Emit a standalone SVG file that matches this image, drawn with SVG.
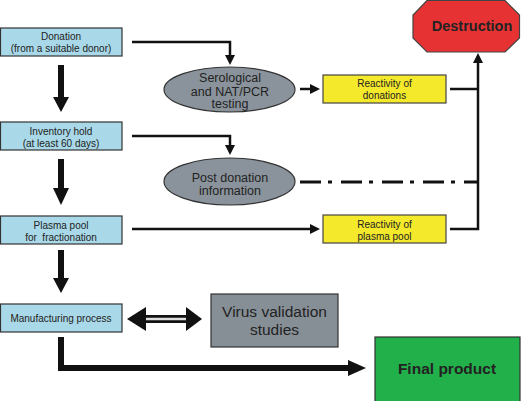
<svg xmlns="http://www.w3.org/2000/svg" width="521" height="401" viewBox="0 0 521 401">
<defs>
<style>
.box{fill:#a9d9e8;stroke:#333;stroke-width:1.2}
.yel{fill:#f4e92b;stroke:#444;stroke-width:1.2}
.ell{fill:#8a939b;stroke:#333;stroke-width:1.2}
.t{font-family:"Liberation Sans",Arial,sans-serif;fill:#222;text-anchor:middle}
.s{font-size:10px}
.m{font-size:12.5px}
.l{font-size:15.5px}
.b{font-weight:bold}
.ln{fill:none;stroke:#111;stroke-width:2.5}
.thick{fill:none;stroke:#111;stroke-width:6}
</style>
</defs>
<g id="connectors">
<rect x="58" y="65" width="6" height="33" fill="#111"/><path d="M53,97 L69,97 L61,112 Z" fill="#111"/>
<rect x="58" y="159" width="6" height="30" fill="#111"/><path d="M53,188 L69,188 L61,205 Z" fill="#111"/>
<rect x="58" y="250" width="6" height="29" fill="#111"/><path d="M53,278 L69,278 L61,293 Z" fill="#111"/>
<path class="thick" d="M61,337 V368 H350"/><path d="M348,360 L366,368 L348,376 Z" fill="#111"/>
<line x1="140" y1="319" x2="192" y2="319" stroke="#111" stroke-width="8"/>
<line x1="140" y1="319" x2="192" y2="319" stroke="#ddd" stroke-width="2.5"/>
<path d="M127,319 L146,307 L146,331 Z" fill="#111"/><path d="M202,319 L186,307 L186,331 Z" fill="#111"/>
<path class="ln" d="M132,42 H230 V55"/><path d="M225,55 L235,55 L230,65 Z" fill="#111"/>
<path class="ln" d="M132,136 H230 V146"/><path d="M225,145 L235,145 L230,155 Z" fill="#111"/>
<line class="ln" x1="300" y1="89" x2="312" y2="89"/><path d="M310,84 L320,89 L310,94 Z" fill="#111"/>
<line class="ln" x1="132" y1="229" x2="312" y2="229"/><path d="M310,224 L320,229 L310,234 Z" fill="#111"/>
<path class="ln" d="M450,229 H478 V62"/><path d="M473,63 L478,53 L483,63 Z" fill="#111"/>
<line class="ln" x1="450" y1="89" x2="478" y2="89"/>
<line x1="300" y1="182" x2="478" y2="182" stroke="#111" stroke-width="3" stroke-dasharray="21,7,4,9"/>
</g>
<g id="donation"><rect class="box" x="0.5" y="28" width="121.5" height="28"/><text class="t s" x="61" y="40">Donation</text><text class="t s" x="61" y="52">(from a suitable donor)</text></g>
<g id="inventory"><rect class="box" x="0.5" y="122" width="121.5" height="28"/><text class="t s" x="61" y="135">Inventory hold</text><text class="t s" x="61" y="147">(at least 60 days)</text></g>
<g id="plasma"><rect class="box" x="0.5" y="216" width="121.5" height="28"/><text class="t s" x="61" y="229">Plasma pool</text><text class="t s" x="61" y="241" xml:space="preserve">for  fractionation</text></g>
<g id="manufacturing"><rect class="box" x="0.5" y="304" width="121.5" height="28"/><text class="t s" x="61" y="322">Manufacturing process</text></g>
<g id="serological"><ellipse class="ell" cx="229.5" cy="89.5" rx="65.5" ry="22.5"/><text class="t m" x="230" y="82">Serological</text><text class="t m" x="230" y="95.5">and NAT/PCR</text><text class="t m" x="230" y="108">testing</text></g>
<g id="postdonation"><ellipse class="ell" cx="229.5" cy="181.5" rx="65.5" ry="23.5"/><text class="t m" x="230" y="182">Post donation</text><text class="t m" x="230" y="195">information</text></g>
<g id="reactdon"><rect class="yel" x="323" y="75" width="123" height="28"/><text class="t s" x="384.5" y="87">Reactivity of</text><text class="t s" x="384.5" y="99">donations</text></g>
<g id="reactpool"><rect class="yel" x="323" y="215" width="123" height="28"/><text class="t s" x="384.5" y="228">Reactivity of</text><text class="t s" x="384.5" y="240">plasma pool</text></g>
<g id="destruction"><polygon points="427,0.5 505,0.5 519.5,15 519.5,38 505,52 427,52 413,38 413,15" fill="#e63233" stroke="#444" stroke-width="1.2"/><text class="t b" x="472" y="31" font-size="14.5" fill="#3a1515">Destruction</text></g>
<g id="virus"><rect x="211" y="294" width="127" height="53" fill="#878f96" stroke="#333" stroke-width="1.2"/><text class="t l" x="274.5" y="317">Virus validation</text><text class="t l" x="274.5" y="335">studies</text></g>
<g id="final"><rect x="375" y="337" width="145" height="70" fill="#22b04b" stroke="#333" stroke-width="1.2"/><text class="t l b" x="447" y="374">Final product</text></g>
</svg>
